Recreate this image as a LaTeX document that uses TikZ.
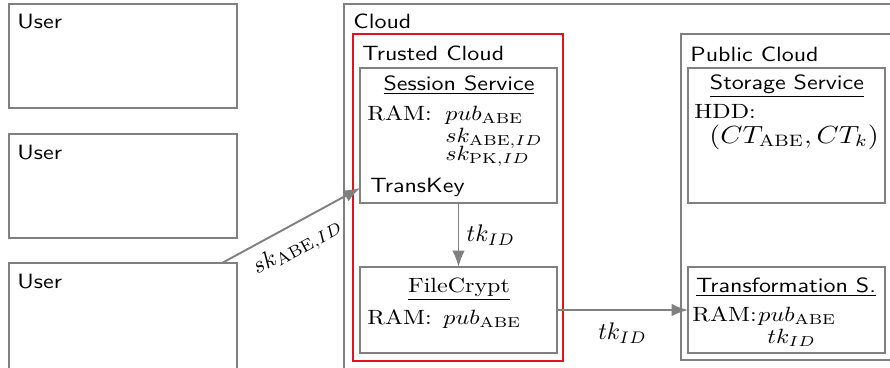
\documentclass[tikz,border=0pt]{standalone}
\usetikzlibrary{arrows.meta,calc}
\definecolor{boxgray}{RGB}{128,128,128}
\definecolor{trustred}{RGB}{226,18,30}
\def\pxu{0.41667pt}
\begin{document}
\begin{tikzpicture}[
  x=0.41667pt, y=-0.41667pt,
  box/.style={draw=boxgray, line width=1.1pt, rectangle, inner sep=0pt, outer sep=0pt, anchor=north west},
  redbox/.style={draw=trustred, line width=1.1pt, rectangle, inner sep=0pt, outer sep=0pt, anchor=north west},
  lbl/.style={inner sep=0pt, anchor=base west, yscale=0.86, transform shape},
  ctr/.style={inner sep=0pt, anchor=base, yscale=0.86, transform shape},
  flow/.style={draw=boxgray, line width=0.8pt, -{Latex[length=6.8pt,width=5.2pt]}},
]
\useasboundingbox (0,0) rectangle (890,367);
\clip (0,0) rectangle (890,367);

% users
\node[box, minimum width=228*\pxu, minimum height=104*\pxu] (u1) at (9,4) {};
\node[box, minimum width=228*\pxu, minimum height=104*\pxu] (u2) at (9,134) {};
\node[box, minimum width=228*\pxu, minimum height=120*\pxu] (u3) at (9,263) {};
\node[lbl] (u1t) at (17,28) {\sffamily User};
\node[lbl] (u2t) at (17,159) {\sffamily User};
\node[lbl] (u3t) at (17,288) {\sffamily User};

% cloud and its two parts
\node[box, minimum width=560*\pxu, minimum height=380*\pxu] (cloud) at (344,4) {};
\node[lbl] (cloudt) at (353,28) {\sffamily Cloud};

\node[redbox, minimum width=210*\pxu, minimum height=327*\pxu] (trust) at (353,34) {};
\node[lbl] (trustt) at (362,60) {\sffamily Trusted Cloud};

\node[box, minimum width=225*\pxu, minimum height=326*\pxu] (pub) at (681,34) {};
\node[lbl] (pubt) at (690,61) {\sffamily Public Cloud};

% session service
\node[box, minimum width=197*\pxu, minimum height=135*\pxu] (sess) at (360,68) {};
\node[ctr] (sesst) at (459,90) {\sffamily\underline{Session Service}};
\node[lbl] (sessram) at (367,120) {RAM:};
\node[lbl] (sessv1) at (445,120) {$pub_{\mathrm{ABE}}$};
\node[lbl] (sessv2) at (445,142) {$sk_{\mathrm{ABE},ID}$};
\node[lbl] (sessv3) at (445,160) {$sk_{\mathrm{PK},ID}$};
\node[lbl] (tkey) at (370,192) {\sffamily TransKey};

% file crypt
\node[box, minimum width=197*\pxu, minimum height=86*\pxu] (fc) at (360,267) {};
\node[ctr] (fct) at (459,292) {\underline{FileCrypt}};
\node[lbl] (fcram) at (367,324) {RAM:};
\node[lbl] (fcv1) at (443,324) {$pub_{\mathrm{ABE}}$};

% storage service
\node[box, minimum width=197*\pxu, minimum height=135*\pxu] (store) at (688,68) {};
\node[ctr] (storet) at (787,89) {\sffamily\underline{Storage Service}};
\node[lbl] (hdd) at (694,118) {HDD:};
\node[lbl] (hddv) at (709,143) {\large$(CT_{\mathrm{ABE}}, CT_k)$};

% transformation service
\node[box, minimum width=197*\pxu, minimum height=86*\pxu] (ts) at (688,267) {};
\node[ctr] (tst) at (786,292) {\sffamily\underline{Transformation S.}};
\node[lbl] (tsram) at (692,321) {RAM:};
\node[lbl] (tsv1) at (758,321) {$pub_{\mathrm{ABE}}$};
\node[lbl] (tsv2) at (767,343) {$tk_{ID}$};

% key flow
\coordinate (skfrom) at ($(u3.north west)+(213,0)$);
\coordinate (skto) at ($(sess.south west)+(0,-15)$);
\draw[flow] (skfrom) -- node[pos=0.47, below, sloped, inner sep=4pt] (skl) {$sk_{\mathrm{ABE},ID}$} (skto);
\draw[flow] (sess.south) -- node[midway, right, inner sep=3pt] (tkl1) {$tk_{ID}$} (fc.north);
\draw[flow] (fc.east) -- node[midway, below, inner sep=5pt] (tkl2) {$tk_{ID}$} (ts.west);
\end{tikzpicture}
\end{document}
